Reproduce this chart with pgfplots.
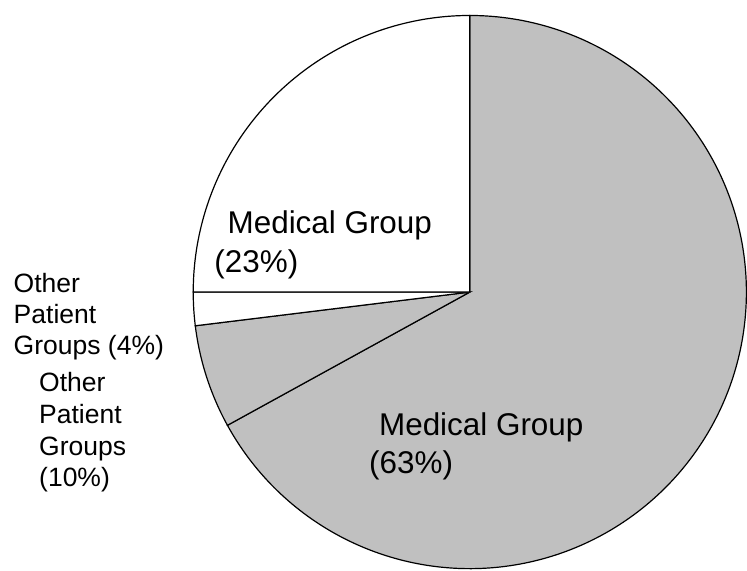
\documentclass[border=0pt]{standalone}
\usepackage{pgfplots}
\pgfplotsset{compat=1.18}
\usepackage{fontspec}
\setmainfont{Liberation Sans}
\definecolor{piegray}{RGB}{192,192,192}
% Medical Group (63%): 90 -> -151.2 ; Other (10%): -151.2 -> -173 ; Other (4%): 187 -> 180 ; Medical Group (23%): 180 -> 90
\begin{document}
\begin{tikzpicture}
\begin{axis}[
  scale only axis, width=560.25pt, height=428.25pt,
  xmin=-470.5, xmax=276.5, ymin=-278.5, ymax=292.5,
  hide axis, clip=false,
]
\path (rel axis cs:0,0) rectangle (rel axis cs:1,1);
\addplot[fill=piegray, draw=black, line width=0.9pt, domain=-151.2:90, samples=240, variable=\t]
  ({277*cos(\t)},{277*sin(\t)}) -- (axis cs:0,0) -- cycle;
\addplot[fill=piegray, draw=black, line width=0.9pt, domain=187:208.8, samples=40, variable=\t]
  ({277*cos(\t)},{277*sin(\t)}) -- (axis cs:0,0) -- cycle;
\addplot[fill=white, draw=black, line width=0.9pt, domain=180:187, samples=20, variable=\t]
  ({277*cos(\t)},{277*sin(\t)}) -- (axis cs:0,0) -- cycle;
\addplot[fill=white, draw=black, line width=0.9pt, domain=90:180, samples=120, variable=\t]
  ({277*cos(\t)},{277*sin(\t)}) -- (axis cs:0,0) -- cycle;

\begin{scope}[every node/.style={anchor=base west, inner sep=0pt, font=\fontsize{23.6}{28}\selectfont}]
\node at (axis cs:-242.8,58.5) {Medical Group};
\node at (axis cs:-256,19.8) {(23\%)};
\node at (axis cs:-91.1,-143.5) {Medical Group};
\node at (axis cs:-101,-181.5) {(63\%)};
\end{scope}
\begin{scope}[every node/.style={anchor=base west, inner sep=0pt, font=\fontsize{19.9}{24}\selectfont}]
\node at (axis cs:-457,-0.2) {Other};
\node at (axis cs:-457,-31.8) {Patient};
\node at (axis cs:-457,-63) {Groups (4\%)};
\node at (axis cs:-431.5,-99.5) {Other};
\node at (axis cs:-431.5,-131.5) {Patient};
\node at (axis cs:-431.5,-163.5) {Groups};
\node at (axis cs:-431.5,-194.5) {(10\%)};
\end{scope}
\end{axis}
\end{tikzpicture}
\end{document}
